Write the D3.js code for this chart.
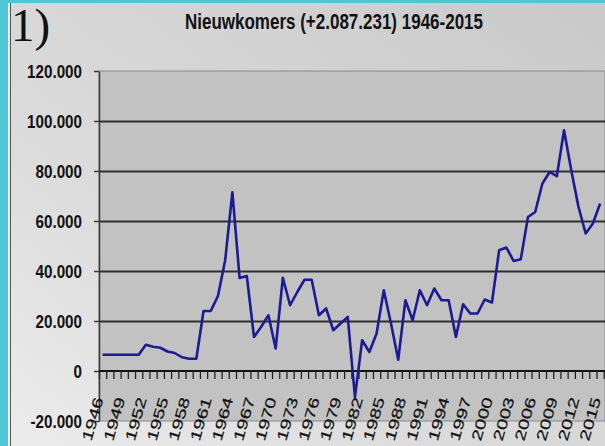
<!DOCTYPE html>
<html>
<head>
<meta charset="utf-8">
<script src="https://cdn.jsdelivr.net/npm/d3@7"></script>
<style>
  html, body { margin: 0; padding: 0; background: #ffffff; }
  svg { display: block; }
</style>
</head>
<body>
<svg id="chart" width="605" height="446"></svg>
<script>
// DATA
const years = d3.range(1946, 2016);
const nieuwkomers = [
  6500, 6500, 6500, 6500, 6500, 6500, 10500, 9700, 9300, 7800,
  7200, 5500, 4900, 4900, 24000, 24000, 30000, 44300, 71500, 37200,
  38000, 13600, 17700, 22300, 9000, 37300, 26300, 31600, 36500, 36500,
  22300, 25000, 16300, 19000, 21600, -10400, 12300, 7600, 15000, 32300,
  19000, 4500, 28300, 20300, 32300, 26300, 33000, 28300, 28300, 13600,
  26700, 23000, 23000, 28600, 27400, 48300, 49400, 44000, 44700, 61600,
  63600, 75000, 79600, 77900, 96300, 80300, 65700, 55000, 59000, 67000
];
const yTicks = [-20000, 0, 20000, 40000, 60000, 80000, 100000, 120000];
const gridValues = [20000, 40000, 60000, 80000, 100000];
const xLabelYears = years.filter((d, i) => i % 3 === 0);
const title = "Nieuwkomers (+2.087.231) 1946-2015";

// LAYOUT
const W = 605, H = 446;
const plot = { left: 99, top: 71, right: 603.7, bottom: 421 };

const svg = d3.select("#chart");

// background gradient
const defs = svg.append("defs");
const grad = defs.append("linearGradient")
    .attr("id", "bg")
    .attr("x1", "0").attr("y1", "1")
    .attr("x2", "1").attr("y2", "0");
grad.append("stop").attr("offset", "0%").attr("stop-color", "#ececec");
grad.append("stop").attr("offset", "35%").attr("stop-color", "#dcdcdc");
grad.append("stop").attr("offset", "100%").attr("stop-color", "#c9c9c9");

svg.append("rect")
    .attr("x", 0).attr("y", 0).attr("width", W).attr("height", H)
    .attr("fill", "url(#bg)");

// frame: cyan strips and thin border
svg.append("rect").attr("x", 0).attr("y", 0).attr("width", W).attr("height", 3)
    .attr("fill", "#4cc7d3");
svg.append("rect").attr("x", 0).attr("y", 0).attr("width", 8).attr("height", H)
    .attr("fill", "#4cc7d3");
svg.append("rect").attr("x", 8).attr("y", 3).attr("width", 1.5).attr("height", H)
    .attr("fill", "#f4f4f4");
svg.append("line")
    .attr("x1", 10.5).attr("x2", 10.5).attr("y1", 3).attr("y2", H)
    .attr("stroke", "#555").attr("stroke-width", 1);

// SCALES
const x = d3.scaleBand()
    .domain(years)
    .range([plot.left, plot.right]);
const xEdge = d3.scaleLinear()
    .domain([0, years.length])
    .range([plot.left, plot.right]);
const y = d3.scaleLinear()
    .domain([-20000, 120000])
    .range([plot.bottom, plot.top]);

const fmt = d3.formatLocale({
  decimal: ",", thousands: ".", grouping: [3], currency: ["", ""], minus: "-"
}).format(",.0f");

// plot area
svg.append("rect")
    .attr("x", plot.left).attr("y", plot.top)
    .attr("width", W - plot.left).attr("height", plot.bottom - plot.top)
    .attr("fill", "#c2c2c2")
    .attr("stroke", "#8a8a8a").attr("stroke-width", 1);

// gridlines
svg.append("g")
    .attr("class", "grid")
    .attr("transform", `translate(${plot.left},0)`)
    .call(d3.axisLeft(y).tickValues(gridValues).tickSize(-(W - plot.left)).tickFormat(""))
    .call(g => g.select(".domain").remove())
    .call(g => g.selectAll(".tick line")
        .attr("stroke", "#2e2e2e").attr("stroke-width", 1.8));

// y axis
svg.append("g")
    .attr("class", "y-axis")
    .attr("transform", `translate(${plot.left},0)`)
    .call(d3.axisLeft(y).tickValues(yTicks).tickSize(5).tickSizeOuter(0).tickFormat(fmt))
    .call(g => g.select(".domain").attr("stroke", "#3a3a3a").attr("stroke-width", 1.5))
    .call(g => g.selectAll(".tick line").attr("stroke", "#3a3a3a").attr("stroke-width", 1.5))
    .call(g => g.selectAll(".tick text")
        .attr("x", 0).attr("dy", "0.36em")
        .attr("transform", "translate(-17,0) scale(0.8,1)")
        .attr("font-family", "Liberation Sans, Arial, sans-serif")
        .attr("font-weight", "bold")
        .attr("font-size", 19)
        .attr("fill", "#111"));

// x axis at zero, ticks between categories
svg.append("g")
    .attr("class", "x-axis")
    .attr("transform", `translate(0,${y(0)})`)
    .call(d3.axisBottom(xEdge).tickValues(d3.range(years.length + 1)).tickSize(8).tickSizeOuter(0).tickFormat(""))
    .call(g => g.select(".domain").attr("stroke", "#111").attr("stroke-width", 2)
        .attr("d", `M${plot.left},0H${W}`))
    .call(g => g.selectAll(".tick line").attr("stroke", "#222").attr("stroke-width", 1.3));

// x labels, steep rotation, glyphs flattened across the baseline
svg.append("g")
    .attr("class", "x-labels")
    .selectAll("text")
    .data(xLabelYears)
    .join("text")
    .attr("transform", d => `translate(${x(d) + x.bandwidth() / 2 + 1},399) rotate(-74) scale(1,0.72)`)
    .attr("text-anchor", "end")
    .attr("font-family", "Liberation Sans, Arial, sans-serif")
    .attr("font-size", 20)
    .attr("fill", "#111")
    .attr("stroke", "#111")
    .attr("stroke-width", 0.3)
    .text(d => d);

// line
const line = d3.line()
    .x((d, i) => x(years[i]) + x.bandwidth() / 2)
    .y(d => y(d));

svg.append("path")
    .datum(nieuwkomers)
    .attr("d", line)
    .attr("fill", "none")
    .attr("stroke", "#1b1b93")
    .attr("stroke-width", 2.6)
    .attr("stroke-linejoin", "round");

// title
svg.append("text")
    .attr("x", 185).attr("y", 29)
    .attr("textLength", 298)
    .attr("lengthAdjust", "spacingAndGlyphs")
    .attr("font-family", "Liberation Sans, Arial, sans-serif")
    .attr("font-weight", "bold")
    .attr("font-size", 22)
    .attr("fill", "#111")
    .text(title);

// panel number
svg.append("text")
    .attr("x", 11).attr("y", 41)
    .attr("font-family", "Liberation Serif, Times New Roman, serif")
    .attr("font-size", 47)
    .attr("fill", "#111")
    .text("1)");
</script>
</body>
</html>
